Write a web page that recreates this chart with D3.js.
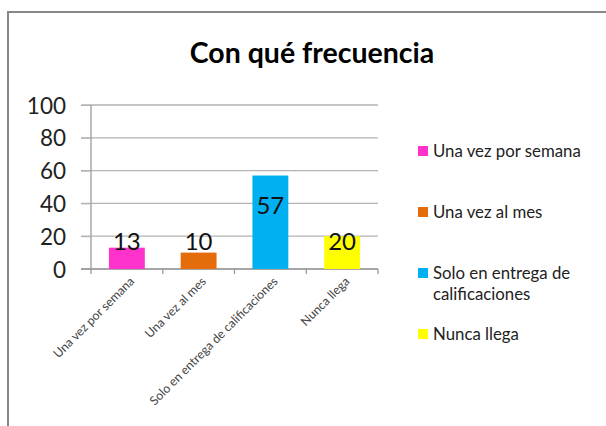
<!DOCTYPE html>
<html><head><meta charset="utf-8">
<script src="https://cdn.jsdelivr.net/npm/d3@7"></script>
<style>body{margin:0;background:#fff}svg{display:block}</style>
</head><body>
<svg id="c" width="606" height="426"></svg>
<script>
const title = "Con qué frecuencia";
const categories = ["Una vez por semana","Una vez al mes","Solo en entrega de calificaciones","Nunca llega"];
const values = [13, 10, 57, 20];
const colors = ["#FF33CC","#E46C0A","#00B0F0","#FFFF00"];
const yTicks = [0,20,40,60,80,100];
const legendLines = [["Una vez por semana"],["Una vez al mes"],["Solo en entrega de","calificaciones"],["Nunca llega"]];

const svg = d3.select("#c");
const font = "Lato, 'Open Sans', sans-serif";

// frame
svg.append("rect").attr("x",8).attr("y",12).attr("width",620).attr("height",430)
  .attr("fill","#fff").attr("stroke","#878787").attr("stroke-width",2);

svg.append("text").attr("x",312).attr("y",63).attr("text-anchor","middle")
  .attr("font-family",font).attr("font-weight","bold").attr("font-size",28.5)
  .attr("fill","#000").text(title);

const x = d3.scaleBand().domain(categories).range([91,378]).paddingInner(0.5).paddingOuter(0.25);
const y = d3.scaleLinear().domain([0,100]).range([269,105]);

const g = svg.append("g");
g.selectAll("line.grid").data(yTicks).join("line")
  .attr("x1",81).attr("x2",378).attr("y1",d=>y(d)).attr("y2",d=>y(d))
  .attr("stroke","#b3b3b3").attr("stroke-width",1.3);

const yAxis = d3.axisLeft(y).tickValues(yTicks).tickSize(10).tickPadding(12);
const ya = svg.append("g").attr("transform","translate(91,0)").call(yAxis);
ya.select(".domain").attr("stroke","#9a9a9a").attr("stroke-width",1.3).attr("d","M0,105V269");
ya.selectAll(".tick line").attr("stroke","#b3b3b3");
ya.selectAll(".tick text").attr("font-family",font).attr("font-size",22.5).attr("fill","#222")
  .attr("x",-25).attr("dy","0.36em");

svg.append("line").attr("x1",81).attr("x2",378).attr("y1",269).attr("y2",269)
  .attr("stroke","#9a9a9a").attr("stroke-width",1.3);
const step = x.step();
svg.selectAll("line.xt").data(d3.range(categories.length+1)).join("line")
  .attr("x1",i=>91+i*step).attr("x2",i=>91+i*step).attr("y1",269).attr("y2",274)
  .attr("stroke","#9a9a9a").attr("stroke-width",1.3);

svg.selectAll("rect.bar").data(values).join("rect")
  .attr("x",(d,i)=>x(categories[i])).attr("width",x.bandwidth())
  .attr("y",d=>y(d)).attr("height",d=>y(0)-y(d)).attr("fill",(d,i)=>colors[i]);

svg.selectAll("text.lbl").data(values).join("text")
  .attr("x",(d,i)=>x(categories[i])+x.bandwidth()/2)
  .attr("y",d=> d>30 ? y(d*0.68) : y(17))
  .attr("dy","0.36em").attr("text-anchor","middle")
  .attr("font-family",font).attr("font-size",24).attr("fill","#111").text(d=>d);

svg.selectAll("text.xl").data(categories).join("text")
  .attr("transform",c=>`translate(${x(c)+x.bandwidth()/2+5},${279}) rotate(-45)`)
  .attr("text-anchor","end").attr("dy","0.36em")
  .attr("font-family",font).attr("font-size",12.3).attr("fill","#444").text(c=>c);

const lg = svg.selectAll("g.lg").data(legendLines).join("g")
  .attr("transform",(d,i)=>`translate(418,${[151,212,273,334][i]})`);
lg.append("rect").attr("x",0).attr("y",-5).attr("width",10).attr("height",10)
  .attr("fill",(d,i)=>colors[i]);
lg.each(function(lines){
  const t = d3.select(this).append("text").attr("font-family",font).attr("font-size",16.8).attr("fill","#222");
  lines.forEach((l,j)=>t.append("tspan").attr("x",15).attr("y",j*21).attr("dy","0.36em").text(l));
});
</script>
</body></html>
